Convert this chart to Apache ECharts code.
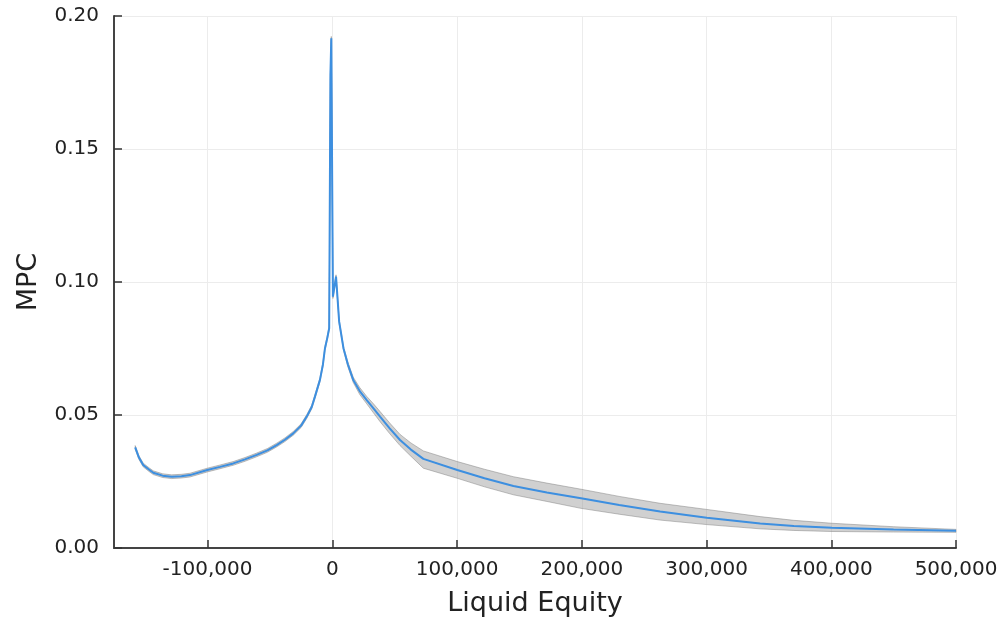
<!DOCTYPE html>
<html>
<head>
<meta charset="utf-8">
<script src="https://cdn.jsdelivr.net/npm/echarts@6/dist/echarts.min.js"></script>
<style>
  html, body { margin: 0; padding: 0; background: #fff; }
  #chart { width: 1000px; height: 619px; }
</style>
</head>
<body>
<div id="chart"></div>
<script>
// liquid equity grid
var equity = [-158000, -155000, -151600, -147000, -143500, -136000, -128800, -121000, -114100, -100200,
  -90000, -79400, -70000, -60600, -52000, -44600, -38000, -31300, -25000, -20500,
  -16500, -13900, -9900, -7500, -5900, -4000, -2500, -1500, -800, 500,
  3000, 5500, 9000, 12500, 16800, 22000, 27600, 33000, 38300, 46000,
  54300, 63000, 73000, 100200, 122000, 145200, 172000, 199400, 230000, 262800,
  300200, 343000, 370000, 400500, 450000, 500000]
// mean MPC
var mpc = [0.0378, 0.0340, 0.0312, 0.0295, 0.0283, 0.0272, 0.0268, 0.0270, 0.0274, 0.0293,
  0.0305, 0.0318, 0.0333, 0.0350, 0.0367, 0.0387, 0.0407, 0.0431, 0.0460, 0.0494,
  0.0530, 0.0569, 0.0632, 0.0690, 0.0750, 0.0790, 0.0826, 0.1780, 0.1916, 0.0945,
  0.1020, 0.0851, 0.0750, 0.0690, 0.0632, 0.0590, 0.0556, 0.0525, 0.0494, 0.0450,
  0.0406, 0.0370, 0.0335, 0.0293, 0.0262, 0.0233, 0.0209, 0.0187, 0.0162, 0.0137,
  0.0114, 0.0092, 0.0083, 0.0076, 0.0070, 0.0065]
// confidence band, lower and upper
var bandLow = [0.0371, 0.0333, 0.0305, 0.0288, 0.0276, 0.0265, 0.0261, 0.0263, 0.0267, 0.0286,
  0.0298, 0.0311, 0.0326, 0.0343, 0.0360, 0.0380, 0.0400, 0.0424, 0.0453, 0.0487,
  0.0523, 0.0562, 0.0625, 0.0683, 0.0743, 0.0783, 0.0819, 0.1773, 0.1909, 0.0938,
  0.1013, 0.0844, 0.0744, 0.0681, 0.0622, 0.0577, 0.0542, 0.0508, 0.0475, 0.0430,
  0.0385, 0.0345, 0.0300, 0.0262, 0.0230, 0.0200, 0.0175, 0.0149, 0.0127, 0.0105,
  0.0088, 0.0072, 0.0066, 0.0062, 0.0060, 0.0059]
var bandHigh = [0.0385, 0.0347, 0.0319, 0.0302, 0.0290, 0.0279, 0.0275, 0.0277, 0.0281, 0.0300,
  0.0312, 0.0325, 0.0340, 0.0357, 0.0374, 0.0394, 0.0414, 0.0438, 0.0467, 0.0501,
  0.0537, 0.0576, 0.0639, 0.0697, 0.0757, 0.0797, 0.0833, 0.1787, 0.1923, 0.0952,
  0.1027, 0.0858, 0.0756, 0.0699, 0.0642, 0.0603, 0.0570, 0.0542, 0.0513, 0.0470,
  0.0427, 0.0395, 0.0365, 0.0325, 0.0296, 0.0268, 0.0244, 0.0221, 0.0194, 0.0168,
  0.0145, 0.0118, 0.0104, 0.0093, 0.0080, 0.0070]

var yTicks = [0, 0.05, 0.1, 0.15, 0.2]

var chart = echarts.init(document.getElementById('chart'))

function pairs(ys) {
  return equity.map(function (x, i) { return [x, ys[i]] })
}

// whole band as one polygon
function renderBand(params, api) {
  if (params.dataIndex !== 0) return
  var pts = []
  for (var i = 0; i < equity.length; i++) pts.push(api.coord([equity[i], bandHigh[i]]))
  for (var j = equity.length - 1; j >= 0; j--) pts.push(api.coord([equity[j], bandLow[j]]))
  return {
    type: 'polygon',
    shape: { points: pts },
    style: { fill: 'rgba(150,150,150,0.45)', stroke: 'rgba(120,120,120,0.45)', lineWidth: 1 }
  }
}

var option = {
  animation: false,
  textStyle: { fontFamily: 'DejaVu Sans' },
  grid: { left: 114, right: 44, top: 16, bottom: 71, outerBoundsMode: 'none' },
  xAxis: {
    type: 'value',
    min: -175000,
    max: 500000,
    splitNumber: 6,
    name: 'Liquid Equity',
    nameLocation: 'middle',
    nameGap: 42,
    nameTextStyle: { fontSize: 27, color: '#222' },
    axisLine: { onZero: false, lineStyle: { color: '#444', width: 2 } },
    axisTick: { inside: true, length: 8, lineStyle: { color: '#333', width: 1.5 } },
    axisLabel: {
      showMinLabel: false,
      fontSize: 20,
      color: '#222',
      margin: 12,
      formatter: function (v) {
        if (v % 100000 !== 0) return ''
        return v.toLocaleString('en-US')
      }
    },
    splitLine: { show: true, lineStyle: { color: '#ececec', width: 1 } }
  },
  yAxis: {
    type: 'value',
    min: yTicks[0],
    max: yTicks[yTicks.length - 1],
    interval: 0.05,
    name: 'MPC',
    nameLocation: 'middle',
    nameGap: 72,
    nameTextStyle: { fontSize: 27, color: '#222' },
    axisLine: { show: true, onZero: false, lineStyle: { color: '#444', width: 2 } },
    axisTick: { inside: true, length: 8, lineStyle: { color: '#333', width: 1.5 } },
    axisLabel: {
      fontSize: 20,
      color: '#222',
      margin: 15,
      formatter: function (v) { return v.toFixed(2) }
    },
    splitLine: { show: true, lineStyle: { color: '#ececec', width: 1 } }
  },
  series: [
    {
      type: 'custom',
      renderItem: renderBand,
      data: [[equity[0], bandLow[0]]],
      silent: true,
      z: 2
    },
    {
      type: 'line',
      data: pairs(mpc),
      symbol: 'none',
      lineStyle: { color: '#3d8fe0', width: 2 },
      z: 5
    }
  ]
}

chart.setOption(option)
</script>
</body>
</html>
